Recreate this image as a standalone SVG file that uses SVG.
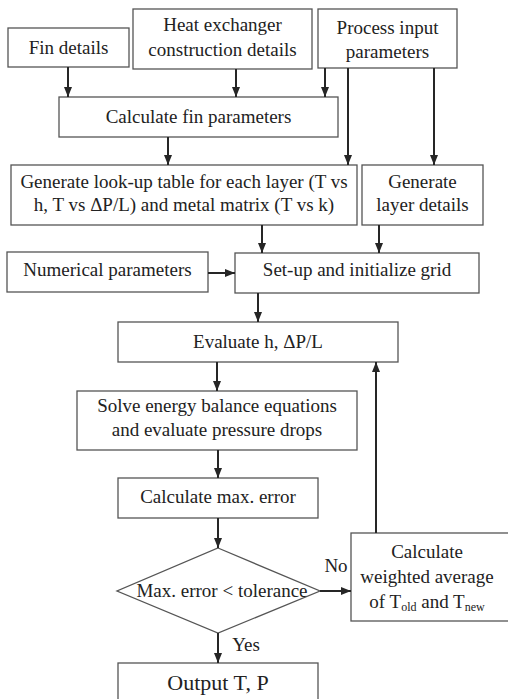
<svg xmlns="http://www.w3.org/2000/svg" width="508" height="699" viewBox="0 0 508 699" font-family="Liberation Serif, Times New Roman, serif">
  <style>
    .box { fill: #ffffff; stroke: #555555; stroke-width: 1.3; }
    .lbl { font-size: 19px; fill: #222222; text-anchor: middle; }
    .sub { font-size: 12px; }
    .big { font-size: 22px; }
    .edge { fill: none; stroke: #262626; stroke-width: 2; }
  </style>
  <defs>
    <marker id="arrow" markerUnits="userSpaceOnUse" markerWidth="10" markerHeight="10" viewBox="0 0 10 10" refX="10" refY="5" orient="auto">
      <path d="M0,1 L10,5 L0,9 Z" fill="#262626"/>
    </marker>
  </defs>
  <rect width="508" height="699" fill="#ffffff"/>

  <g id="fin-details">
    <rect class="box" x="8" y="28" width="121" height="39"/>
    <text class="lbl" x="68.5" y="54">Fin details</text>
  </g>
  <g id="hx-construction">
    <rect class="box" x="133" y="9" width="179" height="60"/>
    <text class="lbl" x="222.5" y="31">Heat exchanger</text>
    <text class="lbl" x="222.5" y="56">construction details</text>
  </g>
  <g id="process-input">
    <rect class="box" x="318" y="9" width="139" height="59"/>
    <text class="lbl" x="387.5" y="34">Process input</text>
    <text class="lbl" x="387.5" y="58">parameters</text>
  </g>
  <g id="calc-fin">
    <rect class="box" x="59" y="97" width="279" height="40"/>
    <text class="lbl" x="198.5" y="123">Calculate fin parameters</text>
  </g>
  <g id="lookup-table">
    <rect class="box" x="11" y="165" width="346" height="60"/>
    <text class="lbl" x="184" y="188">Generate look-up table for each layer (T vs</text>
    <text class="lbl" x="184" y="211">h, T vs ΔP/L) and metal matrix (T vs k)</text>
  </g>
  <g id="layer-details">
    <rect class="box" x="362" y="165" width="121" height="60"/>
    <text class="lbl" x="422.5" y="188">Generate</text>
    <text class="lbl" x="422.5" y="211">layer details</text>
  </g>
  <g id="numerical-params">
    <rect class="box" x="7" y="252" width="201" height="40"/>
    <text class="lbl" x="107.5" y="276">Numerical parameters</text>
  </g>
  <g id="setup-grid">
    <rect class="box" x="235" y="253" width="244" height="40"/>
    <text class="lbl" x="357" y="276">Set-up and initialize grid</text>
  </g>
  <g id="evaluate-h">
    <rect class="box" x="118" y="322" width="280" height="40"/>
    <text class="lbl" x="258" y="348">Evaluate h, ΔP/L</text>
  </g>
  <g id="solve-energy">
    <rect class="box" x="77" y="391" width="280" height="59"/>
    <text class="lbl" x="217" y="412">Solve energy balance equations</text>
    <text class="lbl" x="217" y="436">and evaluate pressure drops</text>
  </g>
  <g id="max-error">
    <rect class="box" x="118" y="478" width="200" height="40"/>
    <text class="lbl" x="218" y="503">Calculate max. error</text>
  </g>
  <g id="tolerance-check">
    <polygon class="box" points="218,548 320,591 218,633 117,591"/>
    <text class="lbl" x="222" y="597">Max. error &lt; tolerance</text>
  </g>
  <g id="weighted-average">
    <rect class="box" x="351" y="533" width="160" height="88"/>
    <text class="lbl" x="427" y="558">Calculate</text>
    <text class="lbl" x="427" y="583">weighted average</text>
    <text class="lbl" x="427" y="608">of T<tspan class="sub" dy="3">old</tspan><tspan dy="-3"> and T</tspan><tspan class="sub" dy="3">new</tspan></text>
  </g>
  <g id="output">
    <rect class="box" x="118" y="663" width="200" height="45"/>
    <text class="lbl big" x="218" y="690">Output T, P</text>
  </g>

  <g id="connectors">
    <path class="edge" d="M68,67 V97" marker-end="url(#arrow)"/>
    <path class="edge" d="M236,69 V97" marker-end="url(#arrow)"/>
    <path class="edge" d="M325,68 V97" marker-end="url(#arrow)"/>
    <path class="edge" d="M348,68 V165" marker-end="url(#arrow)"/>
    <path class="edge" d="M434,68 V165" marker-end="url(#arrow)"/>
    <path class="edge" d="M168,137 V165" marker-end="url(#arrow)"/>
    <path class="edge" d="M262,225 V253" marker-end="url(#arrow)"/>
    <path class="edge" d="M379,225 V253" marker-end="url(#arrow)"/>
    <path class="edge" d="M208,273 H235" marker-end="url(#arrow)"/>
    <path class="edge" d="M258,293 V322" marker-end="url(#arrow)"/>
    <path class="edge" d="M217,362 V391" marker-end="url(#arrow)"/>
    <path class="edge" d="M218,450 V478" marker-end="url(#arrow)"/>
    <path class="edge" d="M218,518 V548" marker-end="url(#arrow)"/>
    <path class="edge" d="M320,591 H351" marker-end="url(#arrow)"/>
    <path class="edge" d="M376,533 V362" marker-end="url(#arrow)"/>
    <path class="edge" d="M218,633 V663" marker-end="url(#arrow)"/>
    <text class="lbl" x="336" y="572">No</text>
    <text class="lbl" x="246" y="651">Yes</text>
  </g>
</svg>
